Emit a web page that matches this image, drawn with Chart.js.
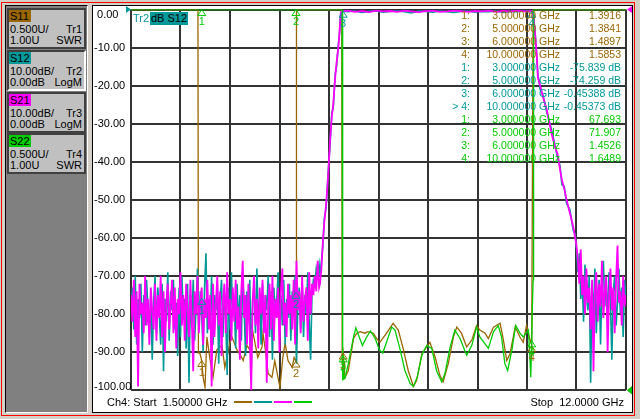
<!DOCTYPE html>
<html>
<head>
<meta charset="utf-8">
<title>Ch4 S-parameters</title>
<script src="https://cdn.jsdelivr.net/npm/chart.js@4.4.1/dist/chart.umd.min.js"></script>
<style>
  html, body { margin: 0; padding: 0; }
  body { position: relative; width: 640px; height: 419px; overflow: hidden; background: #d4d0c8;
         font-family: "Liberation Sans", Arial, sans-serif; font-size: 11px; color: #000; }
  .abs { position: absolute; white-space: pre; line-height: 13px; }
  .tbl { font-size: 10.5px; }
  #frame { position: absolute; left: 1px; top: 2px; width: 632px; height: 412px; border: 1px solid #f00; }
  #side { position: absolute; left: 5px; top: 5px; width: 81px; height: 406px; background: #808080;
          border: 1px solid #000; border-right-color: #fff; border-bottom-color: #fff; }
  .box { position: absolute; left: 1px; width: 75px; height: 37px; background: #c0c0c0; border: 2px solid #404040; }
  .box.sel { border-right-color: #fff; border-bottom-color: #fff; }
  .box div { position: absolute; white-space: pre; line-height: 12px; }
  .ttl { left: 0; top: 0; width: 21px; height: 12px; padding-left: 1px; }
  .l { left: 1px; } .r { right: 2px; }
  #plot { position: absolute; left: 92px; top: 5px; width: 539px; height: 406px; background: #fff; border: 1px solid #000; }
  #chart { position: absolute; left: 0; top: 0; }
  .leg { position: absolute; top: 401px; width: 18px; height: 2px; }
</style>
</head>
<body>
<div id="frame"></div>
<div id="side"></div>
<div id="plot"><canvas id="chart" width="539" height="406"></canvas></div>
<div id="labels"></div>

<script>
// sweep 1.5 - 12 GHz, 10 divisions
const xGridGHz = [1.5, 2.55, 3.6, 4.65, 5.7, 6.75, 7.8, 8.85, 9.9, 10.95, 12.0];
const dbTicks = [0, -10, -20, -30, -40, -50, -60, -70, -80, -90, -100];

const brown = '#996600', teal = '#009999', magenta = '#ff00ff', green = '#00cc00';

// stopband noise, read every 0.03 GHz
const noiseStepGHz = 0.03;
const lowStartGHz = 1.5;
const s21LowDb = [
  -75,-82,-71,-86,-74,-99,-72,-80,-77,-85,
  -70,-83,-76,-88,-73,-79,-84,-72,-87,-75,
  -81,-70,-86,-74,-90,-77,-72,-84,-78,-71,
  -85,-73,-89,-76,-80,-69,-83,-75,-87,-72,
  -79,-86,-71,-82,-95,-74,-80,-70,-85,-77,
  -73,-88,-76,-81,-71,-84,-75,-99,-72,-86,
  -78,-70,-83,-74,-91,-77,-72,-85,-69,-80,
  -76,-87,-73,-82,-71,-84,-78,-92,-74,-66,
  -81,-75,-88,-72,-86,-100,-77,-70,-83,-76,
  -89,-73,-80,-71,-85,-75,-98,-78,-72,-84,
  -70,-87,-76,-81,-73,-90,-74,-68,-83,-77,
  -86,-72,-80,-75,-84,-71,-88,-66,-79,-74,
  -85,-70,-82,-76,-73,-87,-69,-80,-72,-75,
  -70,-74,-66,-73];
const s12LowDb = [
  -78,-73,-84,-70,-88,-76,-81,-72,-90,-75,
  -83,-71,-79,-86,-74,-92,-77,-70,-85,-73,
  -80,-88,-72,-95,-76,-82,-69,-87,-74,-79,
  -71,-84,-77,-91,-73,-86,-70,-81,-76,-89,
  -72,-98,-75,-83,-71,-87,-78,-68,-84,-74,
  -80,-90,-73,-64,-85,-76,-82,-70,-88,-75,
  -79,-72,-93,-77,-71,-86,-74,-81,-96,-73,
  -84,-69,-80,-76,-89,-72,-83,-75,-87,-70,
  -78,-91,-74,-82,-71,-95,-76,-73,-85,-68,
  -81,-77,-88,-72,-84,-75,-79,-70,-86,-74,
  -92,-73,-80,-77,-69,-85,-75,-83,-71,-88,
  -76,-81,-72,-87,-74,-79,-70,-93,-77,-73,
  -84,-71,-86,-75,-80,-69,-82,-92,-74,-71,
  -72,-68,-70,-67];
const highStartGHz = 10.98;
const s21HighDb = [
  -66,-72,-63,-75,-70,-80,-68,-77,-73,-84,
  -71,-95,-74,-69,-82,-72,-78,-66,-81,-74,
  -70,-90,-76,-68,-79,-73,-85,-71,-62,-77,
  -74,-83,-70,-78,-75];
const s12HighDb = [
  -69,-64,-76,-71,-82,-67,-74,-79,-70,-98,
  -73,-80,-68,-85,-75,-71,-88,-73,-66,-78,
  -72,-81,-69,-76,-92,-74,-70,-83,-77,-68,
  -80,-73,-86,-71,-76];

// filter skirts and passband
const riseGHz = [5.51, 5.54, 5.57, 5.60, 5.64, 5.68, 5.72, 5.76, 5.79, 5.83, 5.86, 5.90, 5.92, 5.95];
const s21RiseDb = [-72, -68, -61, -56, -51, -44, -35, -28, -25, -18, -14, -9.8, -6.3, -0.8];
const s12RiseDb = [-70, -66, -62, -55, -52, -43, -36, -27, -26, -17, -15, -9, -6.8, -0.9];
const passGHz = [5.97, 6.1, 6.25, 6.4, 6.55, 6.7, 6.85, 7.0, 7.15, 7.3, 7.45, 7.6, 7.75, 7.9,
                 8.05, 8.2, 8.35, 8.5, 8.65, 8.8, 8.95, 9.1, 9.25, 9.4, 9.55, 9.7, 9.85, 10.0];
const s21PassDb = [-0.5, -0.3, -0.6, -0.4, -0.7, -0.3, -0.5, -0.4, -0.6, -0.3, -0.5, -0.7, -0.4, -0.3,
                   -0.6, -0.5, -0.3, -0.4, -0.6, -0.4, -0.5, -0.3, -0.6, -0.4, -0.5, -0.3, -0.5, -0.45];
const s12PassDb = [-0.45, -0.6, -0.4, -0.8, -0.5, -0.4, -0.7, -0.5, -0.4, -0.6, -0.9, -0.4, -0.5, -0.7,
                   -0.4, -0.6, -0.8, -0.5, -0.4, -0.7, -0.5, -0.6, -0.4, -0.8, -0.5, -0.6, -0.4, -0.45];
const fallGHz = [10.03, 10.07, 10.11, 10.13, 10.18, 10.24, 10.32, 10.42, 10.49, 10.55, 10.60, 10.64, 10.69, 10.74, 10.81, 10.88, 10.92, 10.95];
const s21FallDb = [-0.8, -6.2, -12.5, -17.8, -20, -23, -26.4, -32.5, -36, -38, -42, -44.8, -47, -50, -53.5, -57, -59.8, -62];
const s12FallDb = [-0.9, -5.5, -13, -17, -21, -22.5, -27, -31.5, -35.5, -39, -41, -46, -46.5, -51, -52.5, -58, -59, -63];

// SWR traces (values above 6 are off the top of the screen)
const s11GHz = [1.5, 2.92, 2.93, 2.96, 3.0, 3.03, 3.07, 3.11, 3.18, 3.24, 3.32, 3.43, 3.49, 3.60, 3.64,
  3.75, 3.85, 3.88, 3.96, 4.02, 4.09, 4.19, 4.28, 4.30, 4.34, 4.41, 4.49, 4.55, 4.62, 4.66,
  4.72, 4.77, 4.83, 4.92, 4.96, 5.00, 5.01, 5.97, 5.98, 5.99, 6.00, 6.04, 6.11, 6.22, 6.29,
  6.36, 6.46, 6.53, 6.64, 6.71, 6.78, 6.92, 7.06, 7.17, 7.28, 7.38, 7.49, 7.56, 7.67, 7.84,
  7.95, 8.05, 8.12, 8.23, 8.34, 8.41, 8.51, 8.62, 8.73, 8.83, 8.90, 9.01, 9.08, 9.19, 9.33,
  9.40, 9.47, 9.54, 9.65, 9.75, 9.82, 9.89, 9.95, 10.00, 10.03, 12.0];
const s11Swr = [60, 60, 1.49, 1.49, 1.39, 1.17, 1.04, 1.70, 1.39, 1.17, 1.53, 1.59, 1.30, 1.63, 1.70,
  1.53, 1.43, 1.39, 1.59, 1.53, 1.75, 1.43, 1.57, 1.75, 1.57, 1.22, 1.17, 1.39, 1.16, 1.04,
  1.43, 1.62, 1.39, 1.30, 1.43, 1.38, 60, 60, 1.39, 1.44, 1.49, 1.17, 1.26, 1.68, 1.75,
  1.77, 1.75, 1.77, 1.75, 1.68, 1.63, 1.75, 1.88, 1.79, 1.53, 1.26, 1.05, 1.13, 1.48, 1.63,
  1.44, 1.20, 1.11, 1.35, 1.70, 1.83, 1.75, 1.57, 1.66, 1.85, 1.79, 1.75, 1.68, 1.83, 1.88,
  1.66, 1.39, 1.48, 1.83, 1.70, 1.63, 1.85, 1.70, 1.59, 60, 60];
const s22GHz = [1.5, 5.98, 5.99, 6.00, 6.02, 6.04, 6.11, 6.22, 6.27, 6.34, 6.41, 6.50, 6.58, 6.68, 6.77,
  6.84, 6.92, 7.03, 7.10, 7.21, 7.31, 7.42, 7.49, 7.57, 7.67, 7.77, 7.88, 7.98, 8.09, 8.16,
  8.27, 8.37, 8.48, 8.62, 8.73, 8.83, 8.90, 9.01, 9.08, 9.19, 9.29, 9.36, 9.43, 9.49, 9.58,
  9.66, 9.75, 9.82, 9.93, 9.96, 9.98, 10.00, 10.01, 10.03, 10.04, 12.0];
const s22Swr = [70, 70, 1.13, 1.45, 1.15, 1.16, 1.35, 1.70, 1.82, 1.70, 1.59, 1.70, 1.78, 1.68, 1.53,
  1.49, 1.63, 1.83, 1.79, 1.53, 1.26, 1.09, 1.05, 1.17, 1.46, 1.59, 1.55, 1.26, 1.11, 1.22,
  1.57, 1.79, 1.68, 1.46, 1.59, 1.83, 1.70, 1.61, 1.55, 1.77, 1.85, 1.70, 1.35, 1.26, 1.53,
  1.85, 1.75, 1.70, 1.79, 1.44, 1.17, 1.65, 2.01, 2.45, 70, 70];

// markers
const markerGHz = [3, 5, 6, 10];
const s11MarkSwr = [1.3916, 1.3841, 1.4897, 1.5853];
const s12MarkDb = [-75.839, -74.259, -0.45388, -0.45373];
const s22MarkSwr = [67.693, 71.907, 1.4526, 1.6489];

// left panel
const traceBoxes = [
  { name: 'S11', color: brown, scale: '0.500U/', tr: 'Tr1', ref: '1.00U', fmt: 'SWR' },
  { name: 'S12', color: teal, scale: '10.00dB/', tr: 'Tr2', ref: '0.00dB', fmt: 'LogM', sel: true },
  { name: 'S21', color: magenta, scale: '10.00dB/', tr: 'Tr3', ref: '0.00dB', fmt: 'LogM' },
  { name: 'S22', color: green, scale: '0.500U/', tr: 'Tr4', ref: '1.00U', fmt: 'SWR' }
];
const boxTops = [2, 44, 86, 127];

const side = document.getElementById('side');
traceBoxes.forEach((b, i) => {
  const d = document.createElement('div');
  d.className = 'box' + (b.sel ? ' sel' : '');
  d.style.top = boxTops[i] + 'px';
  d.innerHTML = '<div class="ttl" style="background:' + b.color + '">' + b.name + '</div>' +
    '<div class="l" style="top:13px">' + b.scale + '</div><div class="r" style="top:13px">' + b.tr + '</div>' +
    '<div class="l" style="top:24px">' + b.ref + '</div><div class="r" style="top:24px">' + b.fmt + '</div>';
  side.appendChild(d);
});

// text overlays
const labels = document.getElementById('labels');
function addText(txt, css, cls) {
  const d = document.createElement('div');
  d.className = 'abs' + (cls ? ' ' + cls : '');
  d.textContent = txt;
  Object.assign(d.style, css);
  labels.appendChild(d);
  return d;
}
addText('Tr2', { left: '133px', top: '12px', color: teal });
addText('dB S12', { left: '150px', top: '12px', background: teal, height: '13px', padding: '0 1px' });
addText('Ch4: Start  1.50000 GHz', { left: '107px', top: '396px' });
addText('Stop  12.0000 GHz', { right: '16px', top: '396px' });
[brown, teal, magenta, green].forEach((c, i) => {
  const d = document.createElement('div');
  d.className = 'leg';
  d.style.left = (234 + i * 20) + 'px';
  d.style.background = c;
  labels.appendChild(d);
});

const fmtVal = (v, unit) => v.toPrecision(5) + unit;
const tableRows = [];
markerGHz.forEach((f, i) => tableRows.push({ c: brown, n: (i + 1) + ':', f, v: fmtVal(s11MarkSwr[i], '') }));
markerGHz.forEach((f, i) => tableRows.push({ c: teal, n: (i === 3 ? '> ' : '') + (i + 1) + ':', f, v: fmtVal(s12MarkDb[i], ' dB') }));
markerGHz.forEach((f, i) => tableRows.push({ c: green, n: (i + 1) + ':', f, v: fmtVal(s22MarkSwr[i], '') }));
tableRows.forEach((r, i) => {
  const top = (9.2 + i * 12.96) + 'px';
  addText(r.n, { right: (640 - 470) + 'px', top, color: r.c }, 'tbl');
  addText(r.f.toFixed(6) + ' GHz', { right: (640 - 560) + 'px', top, color: r.c }, 'tbl');
  addText(r.v, { right: (640 - 621) + 'px', top, color: r.c }, 'tbl');
});

// traces
const noisePts = (start, vals) => vals.map((v, i) => ({ x: +(start + i * noiseStepGHz).toFixed(3), y: v }));
const pairPts = (ghz, vals, lim) => ghz.map((f, i) => ({ x: f, y: lim ? Math.min(Math.max(vals[i], lim[0]), lim[1]) : vals[i] }));

const s21Pts = [].concat(noisePts(lowStartGHz, s21LowDb), pairPts(riseGHz, s21RiseDb),
  pairPts(passGHz, s21PassDb), pairPts(fallGHz, s21FallDb), noisePts(highStartGHz, s21HighDb));
const s12Pts = [].concat(noisePts(lowStartGHz, s12LowDb), pairPts(riseGHz, s12RiseDb),
  pairPts(passGHz, s12PassDb), pairPts(fallGHz, s12FallDb), noisePts(highStartGHz, s12HighDb));
const s11Pts = pairPts(s11GHz, s11Swr, [1, 6]);
const s22Pts = pairPts(s22GHz, s22Swr, [1, 6]);

function trace(label, color, data, axis, w) {
  return { label, data, borderColor: color, borderWidth: w, pointRadius: 0, tension: 0, yAxisID: axis };
}

function tri(ctx, pts, color, fill) {
  ctx.beginPath();
  ctx.moveTo(pts[0], pts[1]);
  for (let i = 2; i < pts.length; i += 2) ctx.lineTo(pts[i], pts[i + 1]);
  ctx.closePath();
  if (fill) { ctx.fillStyle = color; ctx.fill(); } else { ctx.strokeStyle = color; ctx.lineWidth = 1; ctx.stroke(); }
}

const vnaOverlay = {
  id: 'vnaOverlay',
  afterDraw(chart) {
    const { ctx, chartArea: a, scales } = chart;
    const xs = scales.x, db = scales.db, swr = scales.swr;
    ctx.save();
    ctx.font = '11px "Liberation Sans", Arial, sans-serif';
    // y labels kept inside the graticule
    ctx.fillStyle = '#000';
    ctx.textAlign = 'left';
    ctx.textBaseline = 'middle';
    dbTicks.forEach(v => {
      const y = Math.min(Math.max(db.getPixelForValue(v), a.top + 5.5), a.bottom - 3.5);
      ctx.fillText((v < 0 ? '' : ' ') + v.toFixed(2), 1, y);
    });
    // reference position arrows
    const y0 = db.getPixelForValue(0), y1 = swr.getPixelForValue(1);
    tri(ctx, [a.left - 5, y0 - 3.5, a.left, y0, a.left - 5, y0 + 3.5], teal, true);
    tri(ctx, [a.right + 6, y0 - 3.5, a.right + 1, y0, a.right + 6, y0 + 3.5], magenta, true);
    tri(ctx, [a.right + 6, y1 - 4, a.right + 1, y1, a.right + 6, y1 + 4], brown, true);
    tri(ctx, [a.right + 6, y1 - 4, a.right + 1, y1, a.right + 6, y1 + 4], green, true);
    // markers
    ctx.textAlign = 'center';
    ctx.textBaseline = 'top';
    const mark = (f, py, color, n) => {
      const px = xs.getPixelForValue(f);
      tri(ctx, [px, py, px - 4, py + 6, px + 4, py + 6], color, false);
      ctx.fillStyle = color;
      ctx.fillText(String(n), px, py + 7);
    };
    const swrY = v => swr.getPixelForValue(Math.min(Math.max(v, 1), 6));
    markerGHz.forEach((f, i) => mark(f, swrY(s11MarkSwr[i]), brown, i + 1));
    markerGHz.forEach((f, i) => mark(f, db.getPixelForValue(s12MarkDb[i]), teal, i + 1));
    markerGHz.forEach((f, i) => mark(f, swrY(s22MarkSwr[i]), green, i + 1));
    ctx.restore();
  }
};

const gridOpts = { color: '#333333', lineWidth: 2, drawTicks: false };
new Chart(document.getElementById('chart').getContext('2d'), {
  type: 'line',
  data: {
    datasets: [
      trace('S22', green, s22Pts, 'swr', 1.3),
      trace('S21', magenta, s21Pts, 'db', 1.8),
      trace('S12', teal, s12Pts, 'db', 1.6),
      trace('S11', brown, s11Pts, 'swr', 1.3)
    ]
  },
  options: {
    responsive: false,
    animation: false,
    events: [],
    layout: { padding: { left: 38, right: 6, top: 3.5, bottom: 21.7 } },
    scales: {
      x: {
        type: 'linear', min: 1.5, max: 12,
        afterBuildTicks: s => { s.ticks = xGridGHz.map(v => ({ value: v })); },
        afterFit: s => { s.height = 0; },
        ticks: { display: false }, grid: gridOpts, border: { display: false }
      },
      db: {
        type: 'linear', position: 'left', min: -100, max: 0,
        afterBuildTicks: s => { s.ticks = dbTicks.map(v => ({ value: v })); },
        afterFit: s => { s.width = 0; },
        ticks: { display: false }, grid: gridOpts, border: { display: false }
      },
      swr: { type: 'linear', position: 'right', min: 1, max: 6, display: false }
    },
    plugins: { legend: { display: false }, tooltip: { enabled: false } }
  },
  plugins: [vnaOverlay]
});
</script>
</body>
</html>
